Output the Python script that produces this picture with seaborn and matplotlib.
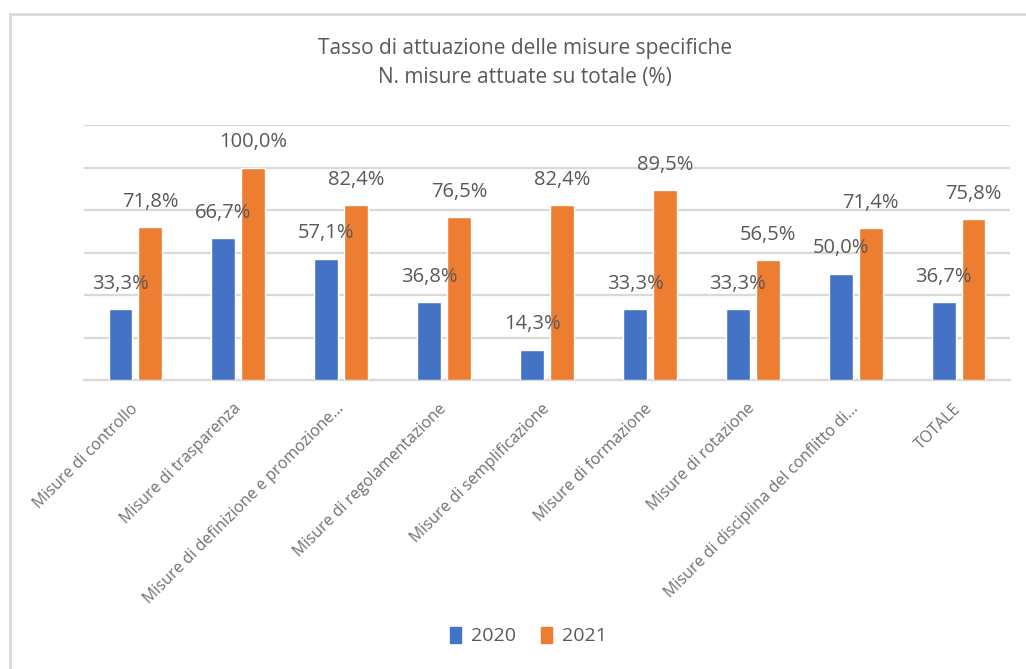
import matplotlib
matplotlib.use("Agg")
import matplotlib.pyplot as plt
from matplotlib.patches import Rectangle
import pandas as pd
import seaborn as sns

# Categories and implementation rates (%) per year
categories = [
    "Misure di controllo",
    "Misure di trasparenza",
    "Misure di definizione e promozione…",
    "Misure di regolamentazione",
    "Misure di semplificazione",
    "Misure di formazione",
    "Misure di rotazione",
    "Misure di disciplina del conflitto di…",
    "TOTALE",
]
years = ["2020", "2021"]
values_2020 = [33.3, 66.7, 57.1, 36.8, 14.3, 33.3, 33.3, 50.0, 36.7]
values_2021 = [71.8, 100.0, 82.4, 76.5, 82.4, 89.5, 56.5, 71.4, 75.8]

title = "Tasso di attuazione delle misure specifiche\nN. misure attuate su totale (%)"

df = pd.DataFrame({
    "categoria": categories * 2,
    "anno": [years[0]] * len(categories) + [years[1]] * len(categories),
    "valore": values_2020 + values_2021,
})

sns.set_theme(style="white")
plt.rcParams["font.family"] = ["Open Sans", "DejaVu Sans"]

text_grey = "#595959"
grid_grey = "#d9d9d9"
palette = {"2020": "#4472C4", "2021": "#ED7D31"}

fig = plt.figure(figsize=(10.26, 6.69), dpi=100)
ax = fig.add_axes([84 / 1026, 1 - 380 / 669, 926 / 1026, 255 / 669])

sns.barplot(
    data=df, x="categoria", y="valore", hue="anno", order=categories,
    hue_order=years, palette=palette, width=0.58, gap=0.2, saturation=1,
    ax=ax, legend=False, zorder=3,
)

ax.set_ylim(0, 120)
ax.set_xlim(-0.5, len(categories) - 0.5)
ax.set_yticks(range(0, 121, 20))
ax.yaxis.grid(True, color=grid_grey, linewidth=1.6, zorder=0)
ax.set_axisbelow(True)
ax.tick_params(axis="y", left=False, labelleft=False)
for side in ["left", "right", "top"]:
    ax.spines[side].set_visible(False)
ax.spines["bottom"].set_color(grid_grey)
ax.spines["bottom"].set_linewidth(1.6)
ax.set_xlabel("")
ax.set_ylabel("")

ax.tick_params(axis="x", bottom=False, pad=13, labelsize=11.5, labelcolor="#707070")
for lbl in ax.get_xticklabels():
    lbl.set_rotation(45)
    lbl.set_ha("right")
    lbl.set_va("center")
    lbl.set_rotation_mode("anchor")

# Percentage labels above each bar, with decimal comma
for cont in ax.containers:
    labels = [f"{b.get_height():.1f}%".replace(".", ",") for b in cont]
    ax.bar_label(cont, labels=labels, padding=11, fontsize=14.5, color=text_grey, zorder=5)

fig.text(0.512, 1 - 63 / 669, title, ha="center", va="center", fontsize=15,
         color=text_grey, linespacing=1.45)

handles = [Rectangle((0, 0), 1, 1, color=palette[y]) for y in years]
fig.legend(handles, years, loc="center", bbox_to_anchor=(0.515, 1 - 636 / 669),
           ncol=2, frameon=False, fontsize=14, labelcolor=text_grey,
           handlelength=0.55, handleheight=0.9, handletextpad=0.5, columnspacing=1.3)

# Light chart frame
fig.patches.append(Rectangle((10 / 1026, -0.2), 1.2, 1.2 - 14 / 669,
                             transform=fig.transFigure, fill=False,
                             edgecolor=grid_grey, linewidth=2))

fig.savefig("out.png", dpi=100, facecolor="white")
